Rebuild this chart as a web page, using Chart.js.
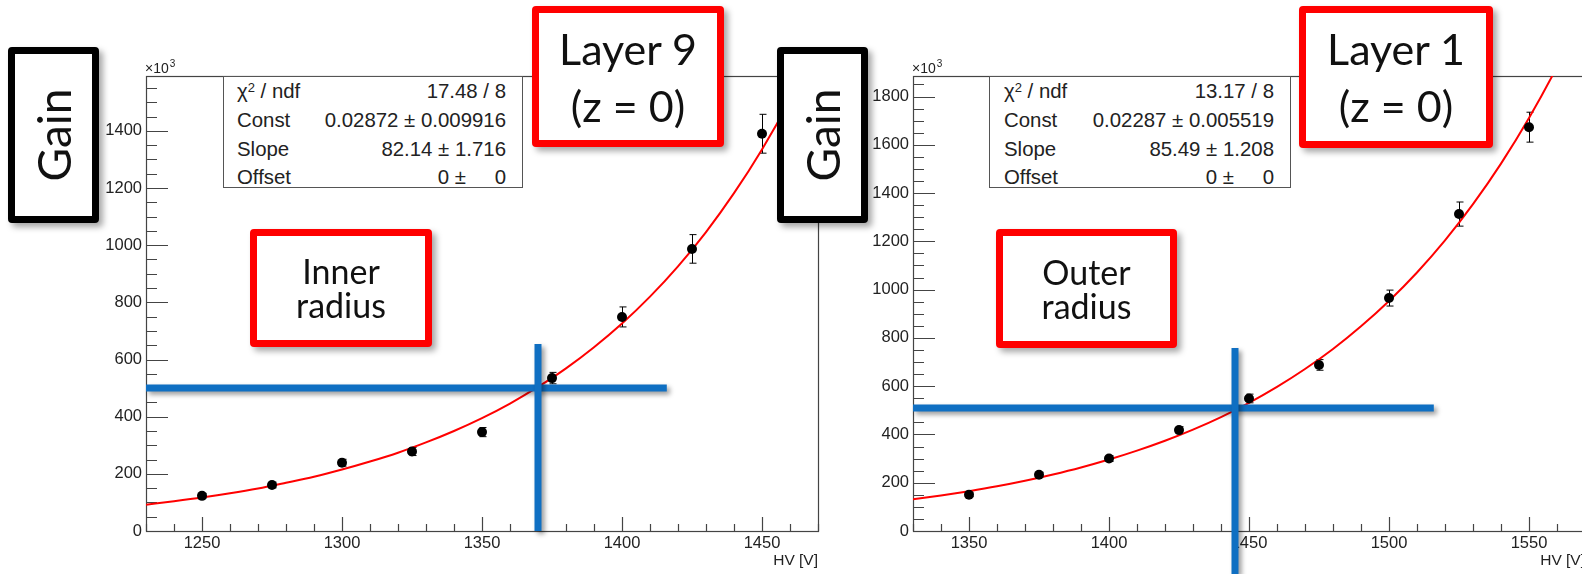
<!DOCTYPE html>
<html><head><meta charset="utf-8">
<script src="https://cdn.jsdelivr.net/npm/chart.js@4.4.0/dist/chart.umd.min.js"></script>
<style>
html,body{margin:0;padding:0;background:#fff;overflow:hidden;width:1582px;height:574px;}
#wrap{position:relative;width:1582px;height:574px;overflow:hidden;}
canvas{position:absolute;top:0;}
.box{position:absolute;box-sizing:border-box;background:#fff;box-shadow:4px 4px 6px rgba(0,0,0,0.35);font-family:Lato,"Open Sans",sans-serif;color:#111;text-align:center;display:flex;flex-direction:column;justify-content:center;align-items:center;z-index:5;}
.red{border:7px solid #ff0000;border-radius:4px;}
.black{border:7px solid #000;border-radius:4px;}
.gain{position:absolute;left:50%;top:50%;transform:translate(-50%,-50%) rotate(-90deg);font-size:46px;line-height:1;white-space:nowrap;}
.layer{font-size:43px;line-height:57px;}
.radius{font-size:34px;line-height:34px;}
.stats{position:absolute;box-sizing:border-box;background:#fff;border:1px solid #555;font-family:"Liberation Sans",Arial,sans-serif;font-size:20.4px;color:#222;z-index:4;}
.stats .r{position:absolute;left:13px;right:16px;height:20px;line-height:20px;white-space:pre;}
.stats .l{position:absolute;left:0;top:0;}
.stats .v{position:absolute;right:0;top:0;}
.stats .v2{position:absolute;right:40px;top:0;}
.stats sup{font-size:13px;position:relative;top:-3px;vertical-align:top;}
</style>
</head>
<body>
<div id="wrap">
  <canvas id="cInner" width="830" height="574" style="left:0px;width:830px;height:574px;"></canvas>
  <canvas id="cOuter" width="760" height="574" style="left:830px;width:760px;height:574px;"></canvas>

  <div class="stats" style="left:223px;top:76px;width:300px;height:112px;">
    <div class="r" style="top:4px;"><span class="l">χ<sup>2</sup> / ndf</span><span class="v">17.48 / 8</span></div>
    <div class="r" style="top:33px;"><span class="l">Const</span><span class="v">0.02872 ± 0.009916</span></div>
    <div class="r" style="top:62px;"><span class="l">Slope</span><span class="v">82.14 ± 1.716</span></div>
    <div class="r" style="top:90px;"><span class="l">Offset</span><span class="v2">0 ±</span><span class="v">0</span></div>
  </div>
  <div class="stats" style="left:989px;top:76px;width:302px;height:112px;">
    <div class="r" style="left:14px;top:4px;"><span class="l">χ<sup>2</sup> / ndf</span><span class="v">13.17 / 8</span></div>
    <div class="r" style="left:14px;top:33px;"><span class="l">Const</span><span class="v">0.02287 ± 0.005519</span></div>
    <div class="r" style="left:14px;top:62px;"><span class="l">Slope</span><span class="v">85.49 ± 1.208</span></div>
    <div class="r" style="left:14px;top:90px;"><span class="l">Offset</span><span class="v2">0 ±</span><span class="v">0</span></div>
  </div>

  <div class="box black" style="left:8px;top:47px;width:91px;height:176px;"><div class="gain">Gain</div></div>
  <div class="box black" style="left:777px;top:47px;width:91px;height:176px;"><div class="gain">Gain</div></div>
  <div class="box red layer" style="left:532px;top:6px;width:192px;height:141px;"><div>Layer 9</div><div>(z = 0)</div></div>
  <div class="box red layer" style="left:1299px;top:6px;width:194px;height:142px;"><div>Layer 1</div><div>(z = 0)</div></div>
  <div class="box red radius" style="left:250px;top:229px;width:182px;height:118px;"><div>Inner</div><div>radius</div></div>
  <div class="box red radius" style="left:996px;top:229px;width:181px;height:119px;"><div>Outer</div><div>radius</div></div>
</div>
<script>
// ---------- Data: Layer 9, inner radius ----------
const hvInner   = [1250, 1275, 1300, 1325, 1350, 1375, 1400, 1425, 1450];
const gainInner = [123, 161, 239, 278, 346, 535, 749, 987, 1390];
const errInner  = [8, 10, 12, 14, 16, 20, 35, 50, 68];
const fitHvInner   = [1230,1240,1250,1260,1270,1280,1290,1300,1310,1320,1330,1340,1350,1360,1370,1380,1390,1400,1410,1420,1430,1440,1450,1460,1470];
const fitGainInner = [92,104,117,132,149,169,190,215,243,274,310,350,395,446,504,569,643,726,820,926,1046,1182,1335,1508,1703];
const guideInnerHX = [1230, 1416], guideInnerHY = [500, 500];
const guideInnerVX = [1370, 1370], guideInnerVY = [0, 654];
const xTicksInner = [1250, 1300, 1350, 1400, 1450];
const yTicksInner = [0, 200, 400, 600, 800, 1000, 1200, 1400];

// ---------- Data: Layer 1, outer radius ----------
const hvOuter   = [1350, 1375, 1400, 1425, 1450, 1475, 1500, 1525, 1550];
const gainOuter = [150, 233, 300, 418, 549, 688, 965, 1313, 1673];
const errOuter  = [8, 10, 12, 14, 18, 22, 33, 50, 62];
const fitHvOuter   = [1330,1340,1350,1360,1370,1380,1390,1400,1410,1420,1430,1440,1450,1460,1470,1480,1490,1500,1510,1520,1530,1540,1550,1560,1570];
const fitGainOuter = [131,147,165,185,208,234,263,296,333,374,420,472,531,597,671,754,848,953,1071,1204,1354,1522,1711,1923,2162];
const guideOuterHX = [1330, 1516], guideOuterHY = [510, 510];
const guideOuterVX = [1445, 1445], guideOuterVY = [-178, 758];
const xTicksOuter = [1350, 1400, 1450, 1500, 1550];
const yTicksOuter = [0, 200, 400, 600, 800, 1000, 1200, 1400, 1600, 1800];

const toXY = (xs, ys) => xs.map((v, i) => ({x: v, y: ys[i]}));
const AXFONT = {family: '"Liberation Sans", Arial, Helvetica, sans-serif', size: 16.5};
const TITLEFONT = {family: '"Liberation Sans", Arial, Helvetica, sans-serif', size: 15.5};

function rootPlugin(hv, gain, err) {
  return {
    id: 'rootStyle',
    beforeDatasetsDraw(chart) {
      const {ctx, chartArea: a, scales: {x, y}} = chart;
      ctx.save();
      ctx.strokeStyle = '#444'; ctx.lineWidth = 1.2;
      ctx.strokeRect(Math.round(a.left) + 0.5, Math.round(a.top) + 0.5, Math.round(a.right - a.left), Math.round(a.bottom - a.top));
      ctx.beginPath();
      for (let v = 0; v <= y.max; v += 50) {
        const py = Math.round(y.getPixelForValue(v)) + 0.5;
        const len = v % 200 === 0 ? 22 : 11;
        ctx.moveTo(a.left, py); ctx.lineTo(a.left + len, py);
      }
      for (let v = Math.ceil(x.min / 10) * 10; v <= x.max; v += 10) {
        const px = Math.round(x.getPixelForValue(v)) + 0.5;
        const len = v % 50 === 0 ? 14 : 7;
        ctx.moveTo(px, a.bottom); ctx.lineTo(px, a.bottom - len);
      }
      ctx.stroke();
      ctx.fillStyle = '#222';
      ctx.font = '14px "Liberation Sans", Arial, sans-serif';
      ctx.textBaseline = 'alphabetic'; ctx.textAlign = 'left';
      ctx.fillText('×10', a.left - 1, a.top - 3);
      const w = ctx.measureText('×10').width;
      ctx.font = '10px "Liberation Sans", Arial, sans-serif';
      ctx.fillText('3', a.left - 1 + w + 1, a.top - 9);
      ctx.strokeStyle = '#000'; ctx.lineWidth = 1;
      ctx.beginPath();
      hv.forEach((v, i) => {
        const px = Math.round(x.getPixelForValue(v)) + 0.5;
        const y1 = y.getPixelForValue(gain[i] - err[i]);
        const y2 = y.getPixelForValue(gain[i] + err[i]);
        ctx.moveTo(px, y1); ctx.lineTo(px, y2);
        ctx.moveTo(px - 3, y1); ctx.lineTo(px + 4, y1);
        ctx.moveTo(px - 3, y2); ctx.lineTo(px + 4, y2);
      });
      ctx.stroke();
      ctx.restore();
    },
    beforeDatasetDraw(chart, args) {
      const ds = chart.data.datasets[args.index];
      if (ds.shadow) {
        const ctx = chart.ctx;
        ctx.save();
        ctx.shadowColor = 'rgba(0,0,0,0.4)';
        ctx.shadowBlur = 5; ctx.shadowOffsetX = 3; ctx.shadowOffsetY = 3;
      }
    },
    afterDatasetDraw(chart, args) {
      const ds = chart.data.datasets[args.index];
      if (ds.shadow) chart.ctx.restore();
    }
  };
}

function makePlot(id, o) {
  return new Chart(document.getElementById(id), {
    type: 'scatter',
    data: {
      datasets: [
        {type: 'line', data: toXY(o.gvx, o.gvy), borderColor: '#0f6fc2', borderWidth: 7, pointRadius: 0, clip: false, shadow: true, borderCapStyle: 'butt'},
        {type: 'line', data: toXY(o.ghx, o.ghy), borderColor: '#0f6fc2', borderWidth: 7, pointRadius: 0, clip: false, shadow: true, borderCapStyle: 'butt'},
        {type: 'scatter', data: toXY(o.hv, o.gain), pointRadius: 5, pointBackgroundColor: '#000', pointBorderWidth: 0, backgroundColor: '#000'},
        {type: 'line', data: toXY(o.fhv, o.fgain), borderColor: '#ff0000', borderWidth: 2, pointRadius: 0, cubicInterpolationMode: 'monotone'}
      ]
    },
    options: {
      responsive: false, animation: false, devicePixelRatio: 1,
      layout: {padding: {left: 0, top: 76, right: o.padRight, bottom: 0}},
      plugins: {legend: {display: false}, tooltip: {enabled: false}},
      scales: {
        x: {
          type: 'linear', min: o.xMin, max: o.xMax,
          grid: {display: false, drawTicks: false}, border: {display: false},
          afterBuildTicks: s => { s.ticks = o.xTicks.map(v => ({value: v})); },
          ticks: {autoSkip: false, maxRotation: 0, padding: 3, color: '#222', font: AXFONT, callback: v => String(v)},
          title: {display: true, text: 'HV [V]', align: 'end', color: '#222', font: TITLEFONT, padding: {top: 0, bottom: 4}},
          afterFit: s => { s.height = 43; }
        },
        y: {
          type: 'linear', min: 0, max: o.yMax,
          grid: {display: false, drawTicks: false}, border: {display: false},
          afterBuildTicks: s => { s.ticks = o.yTicks.map(v => ({value: v})); },
          ticks: {autoSkip: false, padding: 4, color: '#222', font: AXFONT, callback: v => String(v)},
          afterFit: s => { s.width = o.yWidth; }
        }
      }
    },
    plugins: [rootPlugin(o.hv, o.gain, o.err)]
  });
}

makePlot('cInner', {
  hv: hvInner, gain: gainInner, err: errInner, fhv: fitHvInner, fgain: fitGainInner,
  ghx: guideInnerHX, ghy: guideInnerHY, gvx: guideInnerVX, gvy: guideInnerVY,
  xTicks: xTicksInner, yTicks: yTicksInner,
  xMin: 1230, xMax: 1470, yMax: 1592, yWidth: 146, padRight: 12
});
makePlot('cOuter', {
  hv: hvOuter, gain: gainOuter, err: errOuter, fhv: fitHvOuter, fgain: fitGainOuter,
  ghx: guideOuterHX, ghy: guideOuterHY, gvx: guideOuterVX, gvy: guideOuterVY,
  xTicks: xTicksOuter, yTicks: yTicksOuter,
  xMin: 1330, xMax: 1570, yMax: 1885, yWidth: 83, padRight: 5
});
</script>
</body></html>
